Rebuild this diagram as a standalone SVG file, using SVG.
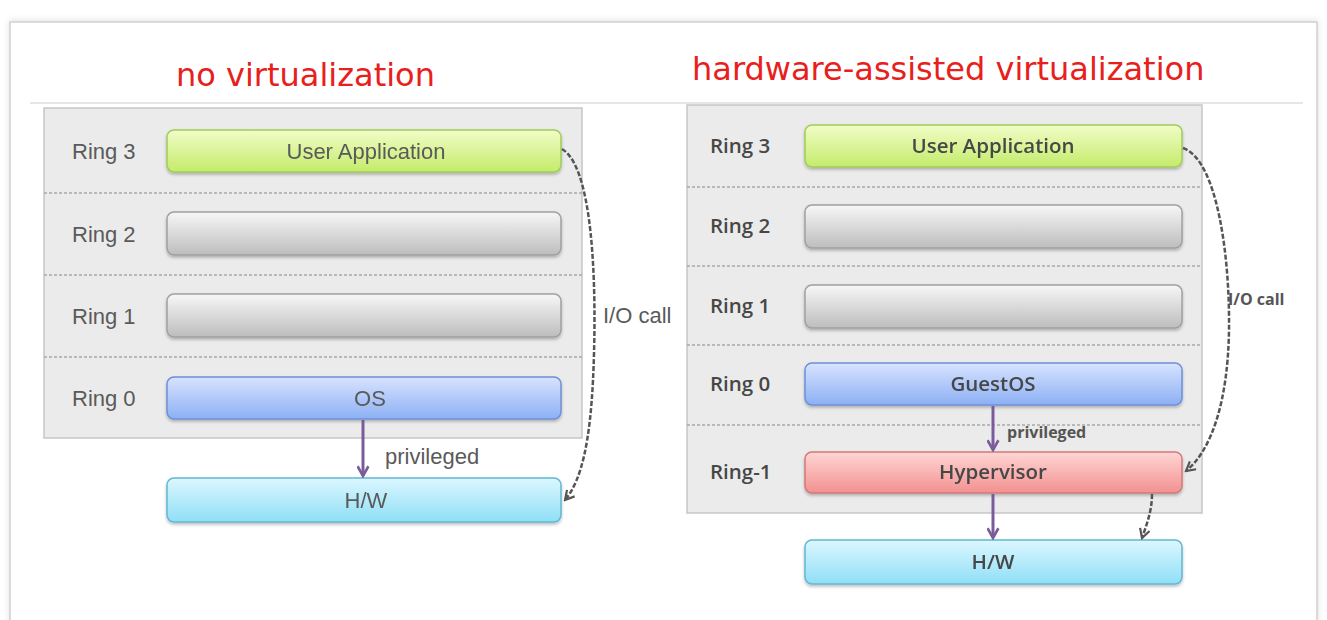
<svg xmlns="http://www.w3.org/2000/svg" width="1327" height="620" viewBox="0 0 1327 620">
  <defs>
    <style>
      .frame { fill: #ffffff; stroke: #cfcfcf; stroke-width: 1.5; }
      .rule { stroke: #e6e6e6; stroke-width: 2; }
      .title { font-family: "DejaVu Sans", "Noto Sans", sans-serif; font-size: 32px; fill: #e8201c; }
      .panel { fill: #ebebeb; stroke: #c6c6c6; stroke-width: 1.5; }
      .sep { stroke: #a9a9a9; stroke-width: 1.5; stroke-dasharray: 3 2; }
      .bar { stroke-width: 1.5; }
      .green { fill: url(#gGreen); stroke: #a0cc5a; }
      .gray { fill: url(#gGray); stroke: #a0a0a0; }
      .blue { fill: url(#gBlue); stroke: #6e90d6; }
      .cyan { fill: url(#gCyan); stroke: #62b8d2; }
      .red { fill: url(#gRed); stroke: #d47878; }
      .lt { font-family: "Liberation Sans", Arial, sans-serif; font-size: 22px; fill: #5a5a5a; }
      .rt { font-family: "Open Sans", "Noto Sans", sans-serif; font-weight: 600; font-size: 20.5px; fill: #474747; }
      .rts { font-family: "Open Sans", "Noto Sans", sans-serif; font-weight: 700; font-size: 16px; fill: #555555; }
      .mid { text-anchor: middle; }
      .io { fill: none; stroke: #555555; stroke-width: 2.5; stroke-dasharray: 5 2; }
      .priv { fill: none; stroke: #7a5c9c; stroke-width: 3; }
    </style>
    <linearGradient id="gGreen" x1="0" y1="0" x2="0" y2="1">
      <stop offset="0" stop-color="#f1fdc8"/>
      <stop offset="1" stop-color="#c4eb6a"/>
    </linearGradient>
    <linearGradient id="gGray" x1="0" y1="0" x2="0" y2="1">
      <stop offset="0" stop-color="#f7f7f7"/>
      <stop offset="1" stop-color="#bdbdbd"/>
    </linearGradient>
    <linearGradient id="gBlue" x1="0" y1="0" x2="0" y2="1">
      <stop offset="0" stop-color="#d8e3ff"/>
      <stop offset="1" stop-color="#8cb0f4"/>
    </linearGradient>
    <linearGradient id="gCyan" x1="0" y1="0" x2="0" y2="1">
      <stop offset="0" stop-color="#dcf7ff"/>
      <stop offset="1" stop-color="#8fdff6"/>
    </linearGradient>
    <linearGradient id="gRed" x1="0" y1="0" x2="0" y2="1">
      <stop offset="0" stop-color="#ffd6d4"/>
      <stop offset="1" stop-color="#f29190"/>
    </linearGradient>
    <filter id="barShadow" x="-5%" y="-20%" width="110%" height="150%">
      <feDropShadow dx="0" dy="2" stdDeviation="1.5" flood-color="#000000" flood-opacity="0.25"/>
    </filter>
    <filter id="frameShadow" x="-2%" y="-5%" width="104%" height="110%">
      <feDropShadow dx="0" dy="-1" stdDeviation="3" flood-color="#000000" flood-opacity="0.12"/>
    </filter>
    <marker id="chevGray" viewBox="0 0 12 12" refX="10" refY="6" markerWidth="12" markerHeight="12" markerUnits="userSpaceOnUse" orient="auto">
      <path d="M1 1 L10 6 L1 11" fill="none" stroke="#555555" stroke-width="2.2"/>
    </marker>
    <marker id="chevPurple" viewBox="0 0 12 12" refX="10" refY="6" markerWidth="13" markerHeight="13" markerUnits="userSpaceOnUse" orient="auto">
      <path d="M1 1 L10 6 L1 11" fill="none" stroke="#7a5c9c" stroke-width="2.4"/>
    </marker>
  </defs>

  <rect width="1327" height="620" fill="#ffffff"/>
  <rect class="frame" x="10" y="22" width="1307" height="610" filter="url(#frameShadow)"/>
  <line class="rule" x1="30" y1="103" x2="1303" y2="103"/>

  <!-- titles -->
  <text class="title" x="176" y="86">no virtualization</text>
  <text class="title" x="692" y="80">hardware-assisted virtualization</text>

  <!-- left stack: no virtualization -->
  <g id="left-panel">
    <rect class="panel" x="44" y="108" width="538" height="330"/>
    <line class="sep" x1="44" y1="193" x2="582" y2="193"/>
    <line class="sep" x1="44" y1="275" x2="582" y2="275"/>
    <line class="sep" x1="44" y1="357" x2="582" y2="357"/>
    <text class="lt" x="72" y="159">Ring 3</text>
    <text class="lt" x="72" y="242">Ring 2</text>
    <text class="lt" x="72" y="324">Ring 1</text>
    <text class="lt" x="72" y="406">Ring 0</text>
  </g>
  <g id="left-user-app" filter="url(#barShadow)">
    <rect class="bar green" x="167" y="130" width="394" height="42" rx="7"/>
    <text class="lt mid" x="366" y="159">User Application</text>
  </g>
  <g id="left-ring2" filter="url(#barShadow)">
    <rect class="bar gray" x="167" y="212" width="394" height="43" rx="7"/>
  </g>
  <g id="left-ring1" filter="url(#barShadow)">
    <rect class="bar gray" x="167" y="294" width="394" height="43" rx="7"/>
  </g>
  <g id="left-os" filter="url(#barShadow)">
    <rect class="bar blue" x="167" y="377" width="394" height="42" rx="7"/>
    <text class="lt mid" x="370" y="406">OS</text>
  </g>
  <g id="left-hw" filter="url(#barShadow)">
    <rect class="bar cyan" x="167" y="478" width="394" height="44" rx="7"/>
    <text class="lt mid" x="366" y="508">H/W</text>
  </g>

  <!-- right stack: hardware-assisted virtualization -->
  <g id="right-panel">
    <rect class="panel" x="687" y="105" width="515" height="408"/>
    <line class="sep" x1="687" y1="187" x2="1202" y2="187"/>
    <line class="sep" x1="687" y1="266" x2="1202" y2="266"/>
    <line class="sep" x1="687" y1="345" x2="1202" y2="345"/>
    <line class="sep" x1="687" y1="425" x2="1202" y2="425"/>
    <text class="rt" x="710" y="153">Ring 3</text>
    <text class="rt" x="710" y="233">Ring 2</text>
    <text class="rt" x="710" y="313">Ring 1</text>
    <text class="rt" x="710" y="391">Ring 0</text>
    <text class="rt" x="710" y="479">Ring-1</text>
  </g>
  <g id="right-user-app" filter="url(#barShadow)">
    <rect class="bar green" x="805" y="125" width="377" height="42" rx="7"/>
    <text class="rt mid" x="993" y="153">User Application</text>
  </g>
  <g id="right-ring2" filter="url(#barShadow)">
    <rect class="bar gray" x="805" y="205" width="377" height="43" rx="7"/>
  </g>
  <g id="right-ring1" filter="url(#barShadow)">
    <rect class="bar gray" x="805" y="285" width="377" height="43" rx="7"/>
  </g>
  <g id="right-guestos" filter="url(#barShadow)">
    <rect class="bar blue" x="805" y="363" width="377" height="42" rx="7"/>
    <text class="rt mid" x="993" y="391">GuestOS</text>
  </g>
  <g id="right-hypervisor" filter="url(#barShadow)">
    <rect class="bar red" x="805" y="452" width="377" height="41" rx="7"/>
    <text class="rt mid" x="993" y="479">Hypervisor</text>
  </g>
  <g id="right-hw" filter="url(#barShadow)">
    <rect class="bar cyan" x="805" y="540" width="377" height="44" rx="7"/>
    <text class="rt mid" x="993" y="569">H/W</text>
  </g>

  <!-- connectors -->
  <g id="connectors">
    <path class="priv" d="M363 420 L363 476" marker-end="url(#chevPurple)"/>
    <path class="io" d="M562 149 C598 170 596 320 593 380 C590 440 582 480 565 500" marker-end="url(#chevGray)"/>
    <path class="priv" d="M993 406 L993 450" marker-end="url(#chevPurple)"/>
    <path class="priv" d="M993 494 L993 538" marker-end="url(#chevPurple)"/>
    <path class="io" d="M1183 148 C1218 160 1230 260 1229 330 C1228 400 1212 450 1186 471" marker-end="url(#chevGray)"/>
    <path class="io" d="M1152 494 C1152 512 1146 526 1142 538" marker-end="url(#chevGray)"/>
    <text class="lt" x="603" y="323">I/O call</text>
    <text class="lt" x="385" y="464">privileged</text>
    <text class="rts" x="1228" y="305">I/O call</text>
    <text class="rts" x="1007" y="438">privileged</text>
  </g>
</svg>
